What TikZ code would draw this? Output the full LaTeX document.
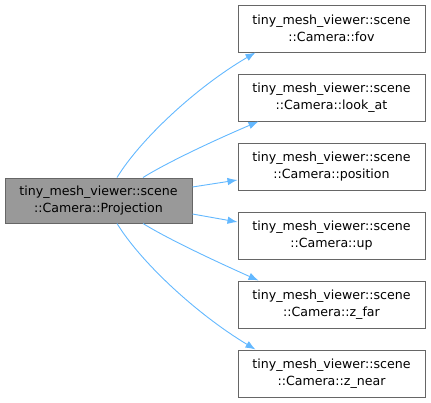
\documentclass[tikz,border=0pt]{standalone}
\usepackage{fontspec}
\setmainfont{DejaVu Sans}
\usetikzlibrary{arrows.meta}
\definecolor{edgeblue}{HTML}{63B8FF}
\definecolor{boxborder}{HTML}{666666}
\definecolor{boxgray}{HTML}{999999}
\begin{document}
\begin{tikzpicture}[x=1pt,y=-1pt,
  basebox/.style={draw=boxborder,line width=1pt,minimum width=187pt,inner sep=0pt,align=center,
    font=\fontsize{12.6}{17}\selectfont},
  leftbox/.style={basebox,fill=boxgray,minimum height=45pt},
  rightbox/.style={basebox,fill=white,minimum height=47pt},
  edge/.style={draw=edgeblue,line width=0.9pt,-{Latex[length=10pt,width=7.5pt]}}]
\useasboundingbox (0,0) rectangle (431,402);
\node[leftbox] (proj) at (98.5,200.5) {tiny\_mesh\_viewer::scene\\::Camera::Projection};
\node[rightbox] (fov) at (331.5,28.5) {tiny\_mesh\_viewer::scene\\::Camera::fov};
\node[rightbox] (lookat) at (331.5,97.5) {tiny\_mesh\_viewer::scene\\::Camera::look\_at};
\node[rightbox] (pos) at (331.5,166.5) {tiny\_mesh\_viewer::scene\\::Camera::position};
\node[rightbox] (up) at (331.5,235.5) {tiny\_mesh\_viewer::scene\\::Camera::up};
\node[rightbox] (zfar) at (331.5,304.5) {tiny\_mesh\_viewer::scene\\::Camera::z\_far};
\node[rightbox] (znear) at (331.5,373.5) {tiny\_mesh\_viewer::scene\\::Camera::z\_near};
\draw[edge] ([xshift=18.5pt]proj.north) .. controls (140,140) and (195,88) .. ([xshift=-76pt]fov.south);
\draw[edge] ([xshift=44.5pt]proj.north) .. controls (168,162) and (215,140) .. ([xshift=-73pt]lookat.south);
\draw[edge] ([yshift=13.5pt]proj.east) -- ([yshift=-13.5pt]pos.west);
\draw[edge] ([yshift=-13.5pt]proj.east) -- ([yshift=13.5pt]up.west);
\draw[edge] ([xshift=44.5pt]proj.south) .. controls (168,239) and (215,261) .. ([xshift=-73pt]zfar.north);
\draw[edge] ([xshift=18.5pt]proj.south) .. controls (140,261) and (195,313) .. ([xshift=-76pt]znear.north);
\end{tikzpicture}
\end{document}
